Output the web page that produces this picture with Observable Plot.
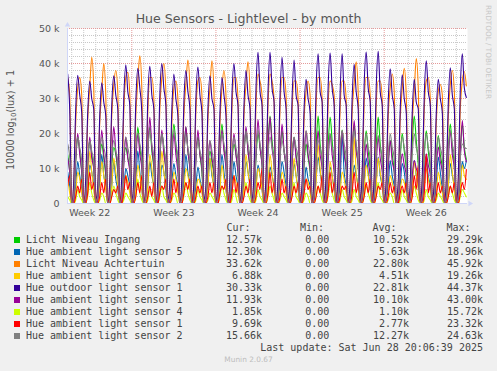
<!DOCTYPE html>
<html><head><meta charset="utf-8">
<script src="https://cdn.jsdelivr.net/npm/d3@7"></script>
<script src="https://cdn.jsdelivr.net/npm/@observablehq/plot@0.6"></script>
<style>
body{margin:0;background:#f0f0f0;}
#wrap{position:relative;width:497px;height:371px;overflow:hidden;background:#f0f0f0;font-family:"DejaVu Sans",sans-serif;}
#chart{position:absolute;left:0;top:0;}
.t{position:absolute;white-space:pre;line-height:1.164;}
.mono{font-family:"DejaVu Sans Mono",monospace;font-size:10px;color:#444;}
.sw{position:absolute;width:6px;height:6px;}
</style></head>
<body><div id="wrap"><div id="chart"></div></div>
<script>
// time axis: days since Mon 26 May 2025 00:00; samples every 4 h starting 26 May 16:00
const timeSpan = [0.65, 33.93];
const firstSample = 16 / 24;
const stepDays = 4 / 24;
const weekMid = [2.5, 9.5, 16.5, 23.5, 30.5];
const weekLabels = ["Week 22", "Week 23", "Week 24", "Week 25", "Week 26"];
const weekStarts = [6, 13, 20, 27];
const yTicks = [0, 10, 20, 30, 40, 50]; // thousands

// values in thousands (10000 log10(lux) + 1), hours 0,4,8,12,16,20 per day
const ingang = [14,9,
0,2,12,19,15,9, 0,1,11,18,14,10, 0,2,12,17,13,8, 0,2,11,16,14,9, 0,1,12,16,13,10,
0,3,14,21.8,16,11, 0,2,15,21.8,15,10, 0,2,13,20,16,9, 0,3,15,22.7,17,11, 0,2,14,21.8,15,10,
0,2,13,19,14,9, 0,1,10,15,12,8, 0,3,15,22.7,16,11, 0,2,12,17,14,9, 0,2,14,20.8,15,10,
0,2,13,20,16,11, 0,3,17,25,18,12, 0,2,14,20.8,15,10, 0,2,13,18.9,14,9, 0,1,11,17,13,9,
0,3,16,25,17,12, 0,3,16,24.7,18,11, 0,2,14,21,15,10, 0,2,15,22.3,16,11, 0,2,14,20.8,15,10,
0,3,16,24.7,17,12, 0,2,12,18,14,9, 0,2,13,20,15,10, 0,3,17,25,18,11, 0,2,14,20.8,15,10,
0,2,13,19.4,14,10, 0,3,15,22.7,16,11, 0,2,15,22.5,16,12.6];
const sensor5 = [9,5,
0,0,5,12,8,4, 0,0,4,11,9,5, 0,1,6,14,8,5, 0,0,5,12,7,4, 0,0,4,10,8,5,
0,1,6,15,9,4, 0,0,5,12,8,5, 0,0,4,11,9,4, 0,1,6,11.4,8,5, 0,0,6,14,9,5,
0,0,5,10.4,7,4, 0,1,5,13,8,5, 0,0,6,14,9,4, 0,0,5,12,8,5, 0,1,6,12,9,5,
0,0,5,11,8,4, 0,0,4,10.4,8,5, 0,1,6,12,9,5, 0,0,5,11.4,8,4, 0,0,4,10.4,7,5,
0,1,7,13.3,9,5, 0,0,5,10.4,8,4, 0,0,6,19,9,5, 0,1,5,11,8,5, 0,0,6,13,9,4,
0,0,6,13.3,8,5, 0,1,5,12.3,8,5, 0,0,5,11.4,9,4, 0,0,6,12.3,8,5, 0,1,5,12,8,5,
0,0,6,13.3,9,4, 0,0,5,11.4,8,5, 0,1,6,12,10,12.3];
const achtertuin = [36,31,
0,5,23,33,36,31, 0,4,24,33,41.8,33, 1,5,23,32,40,31, 0,6,25,34,38,32, 0,5,26,36,37.5,31,
0,5,25,35,42.2,33, 1,4,26,36,36,30, 0,6,27,36,40,32, 0,5,23,33,35,30, 0,5,25,34,41,33,
1,6,26,35,36,31, 0,4,24,33,40.8,32, 0,5,23,33,38,31, 0,6,27,36,36,30, 1,5,25,34,40.5,32,
0,7,28,37,35,31, 0,6,28,37,35,30, 0,6,27,36,36,31, 1,5,26,35,35,30, 0,4,24,32,35,31,
0,7,28,36,36,30, 0,6,28,35,34,31, 1,7,27,35,35,30, 0,5,26,34,40.5,32, 0,7,29,36,36,31,
0,6,28,35,35,30, 1,5,25,33,37,32, 0,5,24,33,38.6,31, 0,4,23,32,41.4,33, 0,6,27,35,36,30,
1,5,23,32,34,31, 0,5,25,34,38,32, 0,6,27,35,37.7,33.6];
const sensor6 = [7,3,
0,0,3,9,7,3, 0,0,5,15,9,4, 0,0,4,12,8,4, 0,0,5,13,9,5, 0,0,3,8,6,3,
0,0,4,11,8,4, 0,0,5,14,10,4, 0,0,5,15,9,5, 0,0,3,9,7,3, 0,0,4,10,8,4,
0,0,3,7,6,3, 0,0,5,13,9,4, 0,0,4,11,7,4, 0,0,3,8,6,3, 0,0,5,14,9,5,
0,0,4,10,8,4, 0,0,5,14,9,4, 0,0,4,9,7,3, 0,0,5,13,8,4, 0,0,3,7,6,3,
0,0,6,17,10,5, 0,0,4,12,8,4, 0,0,3,9,7,3, 0,0,5,19,9,4, 0,0,4,11,8,4,
0,0,5,13,9,5, 0,0,3,8,6,3, 0,0,4,7,6,3, 0,0,5,12,8,4, 0,0,4,10,7,4,
0,0,3,9,6,3, 0,0,5,14,9,4, 0,0,4,11,8,6.9];
const outdoor1 = [37,27,
0,6,27,36.6,31,26, 0,7,26,35,30,27, 1,5,25,34.5,29,25, 0,6,28,36.5,31,27, 0,8,30,39.6,32,28,
1,7,29,38.6,33,26, 0,6,30,39.2,31,27, 0,7,31,40,33,28, 1,6,27,37,30,25, 0,7,29,38,32,27,
0,6,30,39,31,26, 1,5,27,36.5,30,27, 0,7,26,36,31,25, 0,8,31,40,32,28, 0,6,28,38,31,27,
1,9,33,43.2,32,28, 0,8,32,43.2,33,29, 0,7,31,41.8,32,27, 1,8,30,41,31,28, 0,6,27,35.5,30,26,
0,9,33,42.8,32,29, 1,8,33,43,33,28, 0,9,32,42.8,31,28, 0,7,30,39.8,32,27, 1,9,34,43.3,33,29,
0,8,33,43.5,32,28, 0,7,29,38.5,31,27, 1,6,27,36.8,30,26, 0,6,26,35.5,29,27, 0,8,31,40.8,32,28,
1,6,26,35.5,30,26, 0,7,29,38.8,31,27, 0,8,33,42.8,33,30.3];
const sensor1a = [13,9,
0,1,12,20,14,9, 0,1,11,19,13,10, 0,1,12,21,14,9, 0,2,13,22,15,10, 0,1,11,19,13,9,
0,1,12,20,14,10, 0,2,14,24.6,16,11, 0,1,13,21,14,10, 0,1,12,20,14,9, 0,2,13,22,15,10,
0,1,12,21,14,10, 0,1,11,18,13,9, 0,2,13,21,15,10, 0,1,12,20,14,9, 0,1,13,22,15,10,
0,2,14,24,16,11, 0,2,15,24.7,16,11, 0,1,13,22.7,15,10, 0,1,11,18.9,13,9, 0,1,12,20.8,14,10,
0,1,12,20.8,14,10, 0,1,12,19.9,14,9, 0,1,12,20.8,14,10, 0,2,14,23.7,15,11, 0,1,10,17,12,8,
0,1,11,18.9,13,9, 0,1,10,18,12,9, 0,1,9,14.2,11,8, 0,1,8,12.3,10,8, 0,1,9,14.2,11,8,
0,1,10,16.1,12,9, 0,1,12,20.8,14,10, 0,2,14,23.7,15,11.9];
const sensor4 = [2,1,
0,0,1,4,2,1, 0,0,2,6,3,1, 0,0,1,3,2,0, 0,0,2,5,3,1, 0,0,1,3,2,1,
0,0,2,7,3,1, 0,0,1,4,2,1, 0,0,2,5,2,1, 0,0,1,3,2,0, 0,0,2,6,3,1,
0,0,1,4,2,1, 0,0,1,3,2,1, 0,0,2,5,3,1, 0,0,1,4,2,0, 0,0,2,6,3,1,
0,0,1,4,2,1, 0,0,2,5,3,1, 0,0,1,3,2,1, 0,0,2,6,2,1, 0,0,1,3,2,0,
0,0,2,5,3,1, 0,0,2,6,3,1, 0,0,1,4,2,1, 0,0,1,4,2,1, 0,0,2,5,3,1,
0,0,2,6,2,1, 0,0,1,3,2,0, 0,0,1,4,2,1, 0,0,2,5,3,1, 0,0,1,4,2,1,
0,0,1,3,2,1, 0,0,2,5,3,1, 0,0,2,4,3,1.9];
const sensor1b = [5,8,
1,0,2,5,3,7, 2,0,3,9,4,6, 1,0,2,6,3,7, 1,0,2,4,3,5, 2,0,3,8,4,6,
1,0,2,6,3,8, 1,0,2,5,2,6, 2,0,3,5,4,7, 1,0,2,7,3,6, 1,0,3,6,4,7,
2,0,2,5,3,5, 1,0,2,6,3,6, 1,0,3,5,4,7, 2,0,3,8,3,6, 1,0,2,5,3,7,
1,0,2,6,4,10, 2,0,3,9,3,6, 1,0,2,7,3,5, 1,0,2,5,3,6, 2,0,3,7,4,5,
1,0,2,5,3,8, 1,0,3,9,3,6, 2,0,2,5,4,5, 1,0,3,9,3,6, 1,0,2,6,3,7,
2,0,2,5,4,6, 1,0,2,6,3,5, 1,0,3,5,3,6, 2,0,2,8,4,11, 1,0,3,14,3,6,
1,0,2,6,3,5, 2,0,2,5,3,6, 1,0,3,6,4,9.7];
const sensor2 = [17,13,
0,2,14,19,16,12, 0,2,13,18,15,12, 0,2,14,19,16,13, 0,1,13,18,15,12, 0,2,14,19,16,12,
0,2,15,20,17,13, 0,2,15,21,17,13, 0,2,14,20,16,12, 0,2,15,21,17,13, 0,2,14,19,16,12,
0,1,13,18,15,12, 0,2,13,18,15,11, 0,2,15,20,17,13, 0,2,14,19,16,12, 0,2,15,20.8,17,13,
0,2,15,21,17,13, 0,2,14,19,16,12, 0,2,13,18,15,12, 0,2,14,19,16,13, 0,2,15,20.8,17,13,
0,2,13,18,16,12, 0,2,14,19.9,16,13, 0,2,15,20.8,17,13, 0,2,15,20.8,17,12, 0,2,14,19.9,16,13,
0,2,14,19.4,16,12, 0,2,14,19.9,16,13, 0,2,14,19,16,12, 0,2,14,19.9,16,13, 0,2,14,19.9,16,12,
0,2,14,19,16,13, 0,2,15,20.8,17,13, 0,2,13,17,16,15.7];

const names = ["Licht Niveau Ingang","Hue ambient light sensor 5","Licht Niveau Achtertuin","Hue ambient light sensor 6","Hue outdoor light sensor 1","Hue ambient light sensor 1","Hue ambient light sensor 4","Hue ambient light sensor 1","Hue ambient light sensor 2"];
const colors = ["#00CC00","#0066B3","#FF8000","#FFCC00","#330099","#990099","#CCFF00","#FF0000","#808080"];
const curText = ["12.57k","12.30k","33.62k","6.88k","30.33k","11.93k","1.85k","9.69k","15.66k"];
const minText = ["0.00","0.00","0.00","0.00","0.00","0.00","0.00","0.00","0.00"];
const avgText = ["10.52k","5.63k","22.80k","4.51k","22.81k","10.10k","1.10k","2.77k","12.27k"];
const maxText = ["29.29k","18.96k","45.92k","19.26k","44.37k","43.00k","15.72k","23.32k","24.63k"];
const seriesValues = [ingang, sensor5, achtertuin, sensor6, outdoor1, sensor1a, sensor4, sensor1b, sensor2];

const axisColor = "#CFD6F8";
const minorY = d3.range(2, 50, 2).filter(v => v % 10 !== 0);
const majorY = yTicks.filter(v => v > 0);
const dayLines = d3.range(1, 34).filter(d => !weekStarts.includes(d));

const lineMarks = seriesValues.map((vals, k) =>
  Plot.line(vals.map((v, i) => ({t: firstSample + i * stepDays, v})),
    {x: "t", y: "v", stroke: colors[k], strokeWidth: 1.1, curve: "monotone-x", clip: true}));

const chart = Plot.plot({
  width: 497, height: 222,
  marginTop: 28, marginBottom: 19, marginLeft: 67, marginRight: 30,
  style: {background: "transparent", fontFamily: "DejaVu Sans", fontSize: "9.5px", color: "#555", overflow: "visible"},
  x: {type: "linear", domain: timeSpan, ticks: weekMid, tickFormat: d => weekLabels[weekMid.indexOf(d)], tickSize: 0, tickPadding: 6, label: null},
  y: {domain: [0, 50], ticks: yTicks, tickFormat: d => d === 0 ? "0" : d + " k", tickSize: 0, tickPadding: 8, label: null},
  marks: [
    Plot.frame({fill: "white", stroke: "none"}),
    Plot.ruleY(minorY, {stroke: "#c8c8c8", strokeDasharray: "1,1"}),
    Plot.ruleX(dayLines, {stroke: "#c8c8c8", strokeDasharray: "1,1"}),
    Plot.ruleY(majorY, {stroke: "#e59a9a", strokeDasharray: "1,1"}),
    Plot.ruleX(weekStarts, {stroke: "#e59a9a", strokeDasharray: "1,1"}),
    ...lineMarks,
    Plot.ruleY([0], {stroke: axisColor}),
    Plot.ruleX([timeSpan[0]], {stroke: axisColor}),
    Plot.dot([0], {x: () => timeSpan[1], y: () => 0, symbol: "triangle", r: 2, rotate: 90, dx: 2.5, fill: axisColor, stroke: "none"}),
    Plot.dot([0], {x: () => timeSpan[0], y: () => 50, symbol: "triangle", r: 2, dy: -3.5, fill: axisColor, stroke: "none"})
  ]
});
const wrap = document.getElementById("wrap");
document.getElementById("chart").appendChild(chart);

function addText(txt, opts, cls) {
  const el = document.createElement("div");
  el.className = "t " + (cls || "");
  el.innerHTML = txt;
  Object.assign(el.style, opts);
  wrap.appendChild(el);
  return el;
}
// baseline helper: top = baseline - 0.928 * fontSize
const topFor = (b, fs) => (b - 0.928 * fs) + "px";

addText("Hue Sensors - Lightlevel - by month", {left: "0px", width: "497px", textAlign: "center", fontSize: "12.6px", color: "#555", top: topFor(24, 12.6)});
addText('10000 log<span style="font-size:7px;vertical-align:-2px">10</span>(lux) + 1',
  {left: (10.6 - 100) + "px", top: (120 - 6) + "px", width: "200px", height: "12px", lineHeight: "12px", textAlign: "center", fontSize: "9.7px", color: "#555", transform: "rotate(-90deg)", transformOrigin: "100px 6px"});
addText("RRDTOOL / TOBI OETIKER", {left: "484px", top: "5px", width: "8px", lineHeight: "8px", fontSize: "7.3px", color: "#c8c8c8", writingMode: "vertical-rl"});

// legend
const hb = 231;
addText("Cur:", {left: "226.5px", top: topFor(hb, 10)}, "mono");
addText("Min:", {left: "300px", top: topFor(hb, 10)}, "mono");
addText("Avg:", {left: "372.5px", top: topFor(hb, 10)}, "mono");
addText("Max:", {left: "446.5px", top: topFor(hb, 10)}, "mono");
names.forEach((n, i) => {
  const b = 243 + 12 * i;
  const sw = document.createElement("div");
  sw.className = "sw";
  Object.assign(sw.style, {left: "14px", top: (b - 6.3) + "px", background: colors[i]});
  wrap.appendChild(sw);
  addText(n, {left: "26px", top: topFor(b, 10)}, "mono");
  addText(curText[i], {right: (497 - 262) + "px", top: topFor(b, 10)}, "mono");
  addText(minText[i], {right: (497 - 329.3) + "px", top: topFor(b, 10)}, "mono");
  addText(avgText[i], {right: (497 - 409) + "px", top: topFor(b, 10)}, "mono");
  addText(maxText[i], {right: (497 - 483) + "px", top: topFor(b, 10)}, "mono");
});
addText("Last update: Sat Jun 28 20:06:39 2025", {right: (497 - 483) + "px", top: topFor(351, 10)}, "mono");
addText("Munin 2.0.67", {left: "0px", width: "497px", textAlign: "center", fontSize: "7.4px", color: "#bdbdbd", top: topFor(362.5, 7.4)});
</script></body></html>
